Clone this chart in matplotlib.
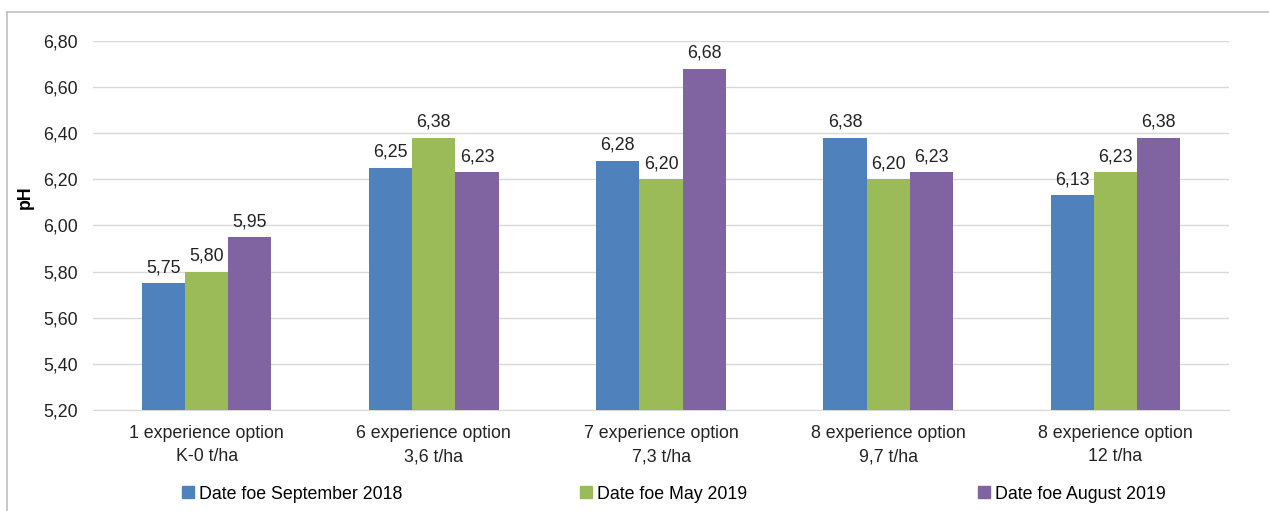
import matplotlib
matplotlib.use("Agg")
import matplotlib.pyplot as plt
import numpy as np
from matplotlib.lines import Line2D

plt.rcParams['font.family'] = ['Liberation Sans', 'DejaVu Sans']

categories = ["1 experience option\nK-0 t/ha", "6 experience option\n3,6 t/ha",
              "7 experience option\n7,3 t/ha", "8 experience option\n9,7 t/ha",
              "8 experience option\n12 t/ha"]
series_names = ["Date foe September 2018", "Date foe May 2019", "Date foe August 2019"]
sep2018 = [5.75, 6.25, 6.28, 6.38, 6.13]
may2019 = [5.80, 6.38, 6.20, 6.20, 6.23]
aug2019 = [5.95, 6.23, 6.68, 6.23, 6.38]
colors = ["#4F81BD", "#9BBB59", "#8064A2"]
yticks = [5.20, 5.40, 5.60, 5.80, 6.00, 6.20, 6.40, 6.60, 6.80]

FS = 12.8
fig = plt.figure(figsize=(12.69, 5.11), dpi=100)
ax = fig.add_axes([0.0733, 0.1977, 0.8952, 0.7221])

x = np.arange(len(categories))
w = 0.19
base = 5.20
for i, (vals, c) in enumerate(zip([sep2018, may2019, aug2019], colors)):
    pos = x + (i - 1) * w
    heights = np.array(vals) - base
    ax.bar(pos, heights, w, bottom=base, color=c, zorder=3)
    for p, v in zip(pos, vals):
        ax.text(p, v + 0.03, f"{v:.2f}".replace(".", ","), ha="center", va="bottom",
                fontsize=FS, color="#222222")

ax.set_ylim(5.20, 6.80)
ax.set_xlim(-0.5, 4.5)
ax.set_yticks(yticks)
ax.set_yticklabels([f"{t:.2f}".replace(".", ",") for t in yticks], fontsize=FS, color="#222222")
ax.set_xticks(x)
ax.set_xticklabels(categories, fontsize=FS, color="#222222", linespacing=1.45)
ax.tick_params(axis="x", length=0, pad=11)
ax.tick_params(axis="y", length=0, pad=11)
ax.yaxis.grid(True, color="#D9D9D9", linewidth=1, zorder=0)
for s in ["top", "right", "left"]:
    ax.spines[s].set_visible(False)
ax.spines["bottom"].set_color("#D9D9D9")
ax.set_ylabel("pH", fontsize=FS, fontweight="bold")
ax.yaxis.set_label_coords(-0.052, 0.577)

# legend: three entries at fixed column positions
legend_x = [0.1425, 0.4565, 0.770]
for name, c, lx in zip(series_names, colors, legend_x):
    h = Line2D([0], [0], marker="s", linestyle="none", markersize=8.5,
               markerfacecolor=c, markeredgecolor=c)
    fig.legend([h], [name], loc="center left", bbox_to_anchor=(lx, 0.033),
               frameon=False, fontsize=FS, handletextpad=0.2, handlelength=0.8,
               borderpad=0, borderaxespad=0)

# outer frame lines
fig.add_artist(Line2D([0.0055, 1.0], [0.976, 0.976], color="#BFBFBF", linewidth=1.2, transform=fig.transFigure))
fig.add_artist(Line2D([0.0055, 0.0055], [0.0, 0.976], color="#BFBFBF", linewidth=1.2, transform=fig.transFigure))

fig.savefig("out.png", dpi=100)
